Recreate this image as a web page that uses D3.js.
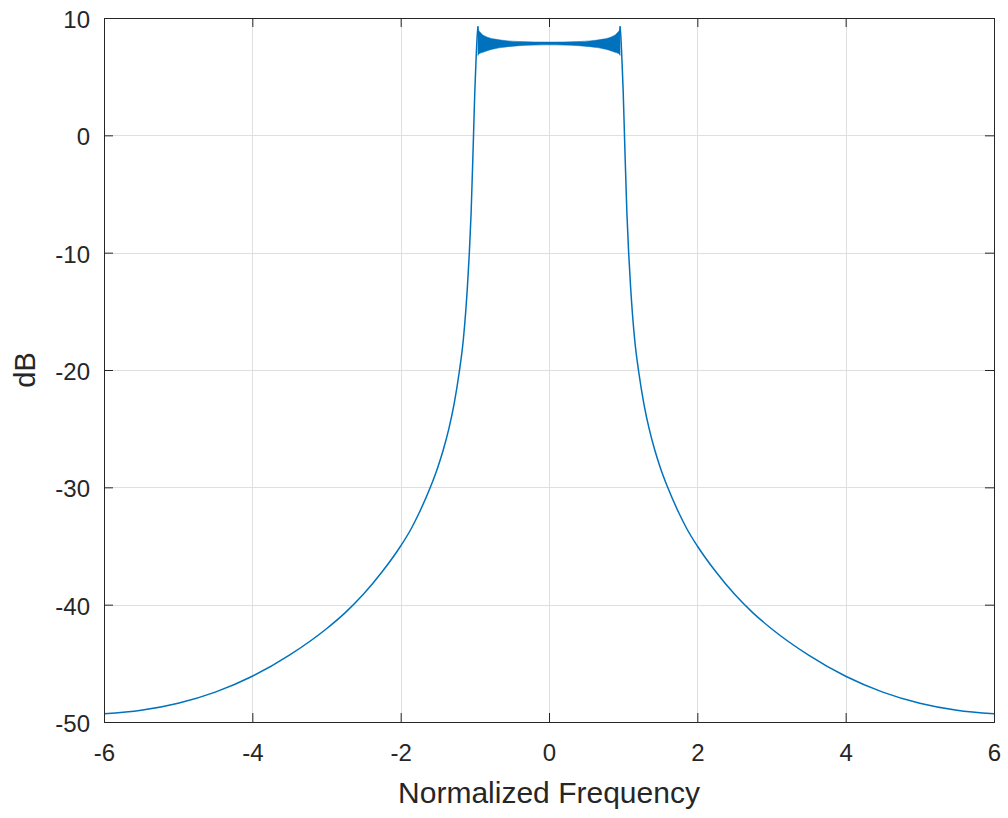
<!DOCTYPE html>
<html>
<head>
<meta charset="utf-8">
<script src="https://cdn.jsdelivr.net/npm/d3@7"></script>
<style>
  html, body { margin: 0; padding: 0; background: #ffffff; }
  svg { display: block; font-family: "Liberation Sans", Arial, Helvetica, sans-serif; }
</style>
</head>
<body>
<svg id="chart" width="1008" height="818"></svg>
<script>
// Magnitude response (dB) against normalized frequency.

// Lower skirt, left side (frequency, dB)
const leftFreq = [-6.0, -5.5, -5.0, -4.5, -4.0, -3.5, -3.0, -2.75, -2.5, -2.25, -2.0, -1.86, -1.75,
                  -1.6, -1.5, -1.425, -1.35, -1.28, -1.21, -1.155, -1.1, -1.074, -1.05, -1.02, -1.0, -0.985, -0.97, -0.958];
const leftDb   = [-49.3, -49.0, -48.4, -47.45, -46.1, -44.3, -42.05, -40.7, -39.1, -37.2, -35.0, -33.55, -32.17,
                  -30.0, -28.3, -26.8, -25.0, -22.9, -20.17, -17.4, -12.9, -10.0, -6.6, -0.5, 3.8, 6.2, 8.3, 9.3];

// Lower skirt, right side (frequency, dB)
const rightFreq = [0.958, 0.97, 0.985, 1.0, 1.02, 1.05, 1.074, 1.1, 1.155, 1.21, 1.28, 1.35, 1.425, 1.5,
                   1.6, 1.75, 1.86, 2.0, 2.25, 2.5, 2.75, 3.0, 3.5, 4.0, 4.5, 5.0, 5.5, 6.0];
const rightDb   = [9.3, 8.3, 6.2, 3.8, -0.5, -6.6, -10.0, -12.9, -17.4, -20.17, -22.9, -25.0, -26.8, -28.3,
                   -30.0, -32.17, -33.55, -35.0, -37.2, -39.1, -40.7, -42.05, -44.3, -46.1, -47.45, -48.4, -49.0, -49.3];

// Passband ripple envelope (frequency, upper dB, lower dB)
const bandFreq  = [-0.958, -0.95, -0.93, -0.9, -0.86, -0.8, -0.73, -0.65, -0.55, -0.4, -0.2, 0.0,
                   0.2, 0.4, 0.55, 0.65, 0.73, 0.8, 0.86, 0.9, 0.93, 0.95, 0.958];
const bandUpper = [9.3, 9.0, 8.8, 8.6, 8.45, 8.3, 8.2, 8.12, 8.05, 7.99, 7.96, 7.95,
                   7.96, 7.99, 8.05, 8.12, 8.2, 8.3, 8.45, 8.6, 8.8, 9.0, 9.3];
const bandLower = [6.8, 6.9, 7.0, 7.05, 7.15, 7.28, 7.38, 7.48, 7.56, 7.64, 7.69, 7.71,
                   7.69, 7.64, 7.56, 7.48, 7.38, 7.28, 7.15, 7.05, 7.0, 6.9, 6.8];

// Axis ticks
const xTicks = [-6, -4, -2, 0, 2, 4, 6];
const yTicks = [-50, -40, -30, -20, -10, 0, 10];

const xLabel = "Normalized Frequency";
const yLabel = "dB";

const svg = d3.select("#chart");
const mLeft = 104, mRight = 994, mTop = 18, mBottom = 722;

const x = d3.scaleLinear().domain([-6, 6]).range([mLeft, mRight]);
const y = d3.scaleLinear().domain([-50, 10]).range([mBottom, mTop]);

const axisColor = "#262626";
const gridColor = "#dfdfdf";
const lineColor = "#0072BD";
const tickLen = 9;

// Grid
const grid = svg.append("g");
grid.selectAll("line.gx").data(xTicks.slice(1, -1)).join("line")
  .attr("x1", d => Math.round(x(d)) + 0.5).attr("x2", d => Math.round(x(d)) + 0.5)
  .attr("y1", mTop).attr("y2", mBottom)
  .attr("stroke", gridColor).attr("stroke-width", 1);
grid.selectAll("line.gy").data(yTicks.slice(1, -1)).join("line")
  .attr("y1", d => Math.round(y(d)) + 0.5).attr("y2", d => Math.round(y(d)) + 0.5)
  .attr("x1", mLeft).attr("x2", mRight)
  .attr("stroke", gridColor).attr("stroke-width", 1);

// Data
const plot = svg.append("g");
const band = bandFreq.map((f, i) => ({ f, hi: bandUpper[i], lo: bandLower[i] }));
plot.append("path")
  .datum(band)
  .attr("d", d3.area().x(d => x(d.f)).y0(d => y(d.lo)).y1(d => y(d.hi)).curve(d3.curveMonotoneX))
  .attr("fill", lineColor)
  .attr("stroke", lineColor)
  .attr("stroke-width", 1)
  .attr("stroke-opacity", 0.5);

const line = d3.line().x(d => x(d[0])).y(d => y(d[1])).curve(d3.curveMonotoneX);
plot.append("path")
  .datum(leftFreq.map((f, i) => [f, leftDb[i]]))
  .attr("d", line)
  .attr("fill", "none").attr("stroke", lineColor).attr("stroke-width", 1.5);
plot.append("path")
  .datum(rightFreq.map((f, i) => [f, rightDb[i]]))
  .attr("d", line)
  .attr("fill", "none").attr("stroke", lineColor).attr("stroke-width", 1.5);

// Axes with inward ticks on all four sides
const fmt = d => d < 0 ? "-" + Math.abs(d) : String(d);

const xAxisB = d3.axisBottom(x).tickValues(xTicks).tickSize(-tickLen).tickPadding(22).tickFormat(fmt);
const xAxisT = d3.axisTop(x).tickValues(xTicks).tickSize(-tickLen).tickFormat("");
const yAxisL = d3.axisLeft(y).tickValues(yTicks).tickSize(-tickLen).tickPadding(14).tickFormat(fmt);
const yAxisR = d3.axisRight(y).tickValues(yTicks).tickSize(-tickLen).tickFormat("");

function style(g) {
  g.select(".domain").attr("stroke", axisColor).attr("stroke-width", 1);
  g.selectAll(".tick line").attr("stroke", axisColor).attr("stroke-width", 1);
  g.selectAll(".tick text").attr("fill", axisColor).attr("font-size", 24)
    .attr("font-family", "'Liberation Sans', Arial, sans-serif");
}

svg.append("g").attr("transform", `translate(0,${mBottom})`).call(xAxisB).call(style)
  .selectAll(".tick text").attr("dy", "0.71em");
svg.append("g").attr("transform", `translate(0,${mTop})`).call(xAxisT).call(style);
svg.append("g").attr("transform", `translate(${mLeft},0)`).call(yAxisL).call(style)
  .selectAll(".tick text").attr("dy", "0.40em");
svg.append("g").attr("transform", `translate(${mRight},0)`).call(yAxisR).call(style);

// Axis titles
svg.append("text")
  .attr("x", (mLeft + mRight) / 2).attr("y", 803)
  .attr("text-anchor", "middle")
  .attr("font-size", 30).attr("fill", axisColor)
  .text(xLabel);
svg.append("text")
  .attr("transform", `translate(35,${(mTop + mBottom) / 2}) rotate(-90)`)
  .attr("text-anchor", "middle")
  .attr("font-size", 29).attr("fill", axisColor)
  .text(yLabel);
</script>
</body>
</html>
